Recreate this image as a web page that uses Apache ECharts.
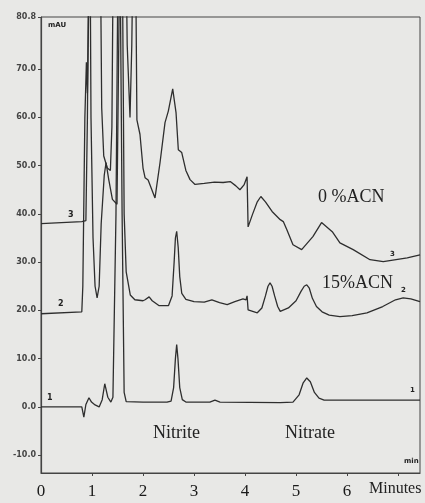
<!DOCTYPE html>
<html>
<head>
<meta charset="utf-8">
<script src="https://cdn.jsdelivr.net/npm/echarts@6.0.0/dist/echarts.min.js"></script>
<style>
html,body{margin:0;padding:0;background:#e8e8e6}
#chart{width:425px;height:503px}
</style>
</head>
<body>
<div id="chart"></div>
<script>
// minutes, mAU  (trace 1 = bottom, 2 = 15%ACN, 3 = 0%ACN)
const trace1 = [[0,0],[0.80,0],[0.84,-2.1],[0.88,0.5],[0.94,1.9],[0.99,1.0],[1.06,0.4],[1.14,0],[1.20,1.5],[1.25,4.8],[1.31,2.0],[1.37,1.0],[1.41,2.0],[1.47,40],[1.53,120],[1.59,40],[1.63,3],[1.67,1.1],[2.0,1.0],[2.47,1.0],[2.55,1.2],[2.60,4],[2.635,10],[2.66,12.9],[2.685,10],[2.72,4],[2.77,1.5],[2.84,1.0],[3.31,1.0],[3.41,1.4],[3.51,1.0],[4.69,0.9],[4.94,1.0],[5.06,2.5],[5.14,5.0],[5.21,6.0],[5.28,5.2],[5.36,3.0],[5.45,1.8],[5.55,1.4],[7.43,1.4]]

const trace2 = [[0,19.3],[0.80,19.7],[0.82,25],[0.86,60],[0.89,71.4],[0.91,65],[0.96,100],[0.98,60],[1.02,35],[1.06,25],[1.10,22.6],[1.14,25],[1.18,38],[1.24,48],[1.275,50.6],[1.33,47],[1.40,43],[1.49,42],[1.55,100],[1.59,100],[1.63,40],[1.67,28],[1.75,23.2],[1.84,22.2],[2.00,22.0],[2.04,22.2],[2.12,22.8],[2.18,22.0],[2.31,21.0],[2.50,21.0],[2.57,23],[2.61,30],[2.635,35],[2.66,36.4],[2.69,33],[2.72,27],[2.76,23.5],[2.84,22.3],[3.0,21.8],[3.2,21.7],[3.35,22.2],[3.50,21.6],[3.65,21.2],[3.80,21.8],[3.96,22.4],[4.02,22.2],[4.04,23],[4.06,20.1],[4.24,19.5],[4.33,20.5],[4.40,23],[4.45,25],[4.49,25.7],[4.53,25],[4.58,23],[4.64,20.8],[4.69,19.8],[4.85,20.5],[5.0,22],[5.10,24],[5.16,25],[5.21,25.3],[5.26,24.6],[5.32,22.5],[5.40,20.8],[5.51,19.7],[5.65,19.0],[5.86,18.7],[6.1,18.9],[6.39,19.5],[6.7,20.8],[6.95,22.2],[7.10,22.6],[7.25,22.4],[7.43,21.8]]

const trace3 = [[0,38.0],[0.40,38.2],[0.80,38.4],[0.88,38.6],[0.91,60],[0.94,100],[1.16,100],[1.19,62],[1.23,52],[1.30,49.5],[1.36,49],[1.39,58],[1.42,100],[1.66,100],[1.69,75],[1.745,60],[1.78,75],[1.81,100],[1.85,100],[1.88,59.5],[1.94,56.5],[2.0,49.5],[2.04,47.5],[2.10,47.0],[2.235,43.3],[2.333,50.6],[2.431,58.9],[2.496,61.3],[2.582,65.9],[2.647,61],[2.692,53.3],[2.759,52.7],[2.84,49],[2.922,47.1],[3.02,46.1],[3.2,46.3],[3.40,46.6],[3.57,46.5],[3.71,46.7],[3.82,45.8],[3.90,45],[3.98,46],[4.04,47.7],[4.06,37.3],[4.15,40],[4.24,42.5],[4.31,43.6],[4.40,42.5],[4.53,40.5],[4.69,38.8],[4.75,38.4],[4.82,36.7],[4.94,33.6],[5.11,32.6],[5.33,35.3],[5.50,38.2],[5.71,36.3],[5.86,34.0],[6.12,32.6],[6.45,30.5],[6.71,30.1],[7.18,30.9],[7.43,31.5]]

const yLabels = [-10, 0, 10, 20, 30, 40, 50, 60, 70, 80.8]
const xLabels = [0, 1, 2, 3, 4, 5, 6]
const xTicks = [1, 2, 3, 4, 5, 6, 7]

const serif = "'Liberation Serif', 'DejaVu Serif', serif"
const ink = '#2e2e2e'

const chart = echarts.init(document.getElementById('chart'))

const trace = (data) => ({
  type: 'line', data: data, symbol: 'none', clip: true,
  lineStyle: { color: ink, width: 1.3 }
})

const txt = (left, top, text, size, font) => ({
  type: 'text', left: left, top: top,
  style: { text: text, fill: '#222', font: (font || 'bold ' + size + "px 'DejaVu Sans', sans-serif") }
})

chart.setOption({
  animation: false,
  backgroundColor: '#e8e8e6',
  grid: { left: 41, right: 5, top: 17, bottom: 30, show: true, borderColor: '#444', borderWidth: 1 },
  xAxis: {
    type: 'value', min: 0, max: 7.43,
    axisLine: { onZero: false, lineStyle: { color: '#444', width: 1.2 } },
    axisTick: { customValues: xTicks, length: 3, lineStyle: { color: '#444' } },
    axisLabel: { customValues: xLabels, margin: 10, fontSize: 17, fontFamily: serif, color: '#1a1a1a' },
    splitLine: { show: false }
  },
  yAxis: {
    type: 'value', min: -13.7, max: 80.8,
    axisLine: { show: true, lineStyle: { color: '#444', width: 1.2 } },
    axisTick: { customValues: yLabels, length: 3, lineStyle: { color: '#444' } },
    axisLabel: {
      customValues: yLabels, margin: 5, fontSize: 8, fontWeight: 'bold',
      fontFamily: "'DejaVu Sans', sans-serif", color: '#444',
      formatter: (v) => v.toFixed(1)
    },
    splitLine: { show: false }
  },
  series: [trace(trace1), trace(trace2), trace(trace3)],
  graphic: [
    txt(48, 22, 'mAU', 7),
    txt(68, 211, '3', 8),
    txt(58, 300, '2', 8),
    txt(47, 394, '1', 8),
    txt(390, 251, '3', 7),
    txt(401, 287, '2', 7),
    txt(410, 387, '1', 7),
    txt(404, 458, 'min', 7),
    txt(318, 188, '0 %ACN', 0, '18px ' + serif),
    txt(322, 274, '15%ACN', 0, '18px ' + serif),
    txt(153, 424, 'Nitrite', 0, '18px ' + serif),
    txt(285, 424, 'Nitrate', 0, '18px ' + serif),
    txt(369, 481, 'Minutes', 0, '16px ' + serif)
  ]
})
</script>
</body>
</html>
